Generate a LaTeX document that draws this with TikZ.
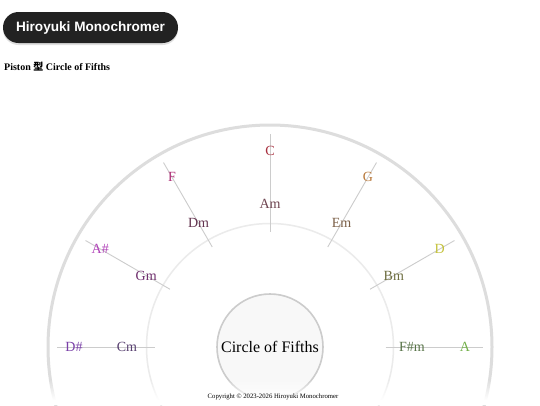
\documentclass[tikz,border=0pt]{standalone}
\usepackage{fontspec}
\setmainfont{Liberation Serif}
\newfontfamily\titlefont{Liberation Sans}
\newfontfamily\cjk{Noto Sans CJK JP}
\usetikzlibrary{fadings,shadows,calc}
\definecolor{badge}{HTML}{222222}
\definecolor{outerc}{HTML}{DDDDDD}
\definecolor{midc}{HTML}{EBEBEB}
\definecolor{spoke}{HTML}{CCCCCC}
\definecolor{centerfill}{HTML}{F8F8F8}
\definecolor{centerline}{HTML}{CCCCCC}
\definecolor{cC}{HTML}{A8303F}
\definecolor{cG}{HTML}{B8783A}
\definecolor{cD}{HTML}{C4C23A}
\definecolor{cA}{HTML}{72B048}
\definecolor{cF}{HTML}{B03078}
\definecolor{cAs}{HTML}{B040B8}
\definecolor{cDs}{HTML}{7A40A8}
\definecolor{cAm}{HTML}{6E4450}
\definecolor{cEm}{HTML}{7C6048}
\definecolor{cBm}{HTML}{6E6E40}
\definecolor{cFsm}{HTML}{587448}
\definecolor{cDm}{HTML}{643450}
\definecolor{cGm}{HTML}{70306E}
\definecolor{cCm}{HTML}{584070}
\tikzfading[name=fadebottom, top color=transparent!100, bottom color=transparent!0]
\tikzset{
  major/.style={font=\fontsize{14}{16}\selectfont, inner sep=0pt},
  minor/.style={font=\fontsize{14}{16}\selectfont, inner sep=0pt},
  spokeline/.style={draw=spoke, line width=0.9pt},
}
\begin{document}
\begin{tikzpicture}[x=1pt,y=-1pt]
\useasboundingbox (0,0) rectangle (540,405);
\fill[white] (0,0) rectangle (540,405);
% title badge
\node[fill=badge, rounded corners=15.5pt, minimum width=175pt, minimum height=31pt,
      drop shadow={opacity=0.25, shadow xshift=0pt, shadow yshift=-2pt},
      text=white, font=\titlefont\bfseries\fontsize{13.6}{15}\selectfont] (badge) at (90.5,27.5) {Hiroyuki Monochromer};
\node[anchor=west, inner sep=0pt, font=\bfseries\fontsize{10}{12}\selectfont] (subtitle) at (4,67) {Piston {\cjk\bfseries 型} Circle of Fifths};
% circles
\coordinate (O) at (270,347);
\draw[outerc, line width=3pt] (O) circle[radius=222];
\draw[midc, line width=1.5pt] (O) circle[radius=123.5];
% spokes
\foreach \a/\n in {90/C,60/G,30/D,0/A,120/F,150/As,180/Ds}{
  \coordinate (in\n) at ($(O)+(-\a:115.5)$);
  \coordinate (out\n) at ($(O)+(-\a:213)$);
  \draw[spokeline] (in\n) -- (out\n);
}
% center circle
\node[circle, draw=centerline, line width=1.6pt, fill=centerfill, minimum size=106pt, inner sep=0pt,
      font=\fontsize{16}{18}\selectfont] (center) at (O) {Circle of Fifths};
% major keys
\node[major, text=cC]  (kC)  at ($(O)+(-90:196)$)  {C};
\node[major, text=cG]  (kG)  at ($(O)+(-60:196)$)  {G};
\node[major, text=cD]  (kD)  at ($(O)+(-30:196)$)  {D};
\node[major, text=cA]  (kA)  at ($(O)+(0:195)$)    {A};
\node[major, text=cF]  (kF)  at ($(O)+(-120:196)$) {F};
\node[major, text=cAs] (kAs) at ($(O)+(-150:196)$) {A\#};
\node[major, text=cDs] (kDs) at ($(O)+(-180:196)$) {D\#};
% minor keys
\node[minor, text=cAm]  (kAm)  at ($(O)+(-90:143)$)  {Am};
\node[minor, text=cEm]  (kEm)  at ($(O)+(-60:143)$)  {Em};
\node[minor, text=cBm]  (kBm)  at ($(O)+(-30:143)$)  {Bm};
\node[minor, text=cFsm] (kFsm) at ($(O)+(0:142)$)    {F\#m};
\node[minor, text=cDm]  (kDm)  at ($(O)+(-120:143)$) {Dm};
\node[minor, text=cGm]  (kGm)  at ($(O)+(-150:143)$) {Gm};
\node[minor, text=cCm]  (kCm)  at ($(O)+(-180:143)$) {Cm};
% bottom fade
\fill[white, path fading=fadebottom] (0,379) rectangle (540,400);
\fill[white] (0,400) rectangle (540,405);
% copyright
\node[inner sep=0pt, font=\fontsize{6.7}{8}\selectfont] (copy) at (273,397) {Copyright © 2023-2026 Hiroyuki Monochromer};
\end{tikzpicture}
\end{document}
